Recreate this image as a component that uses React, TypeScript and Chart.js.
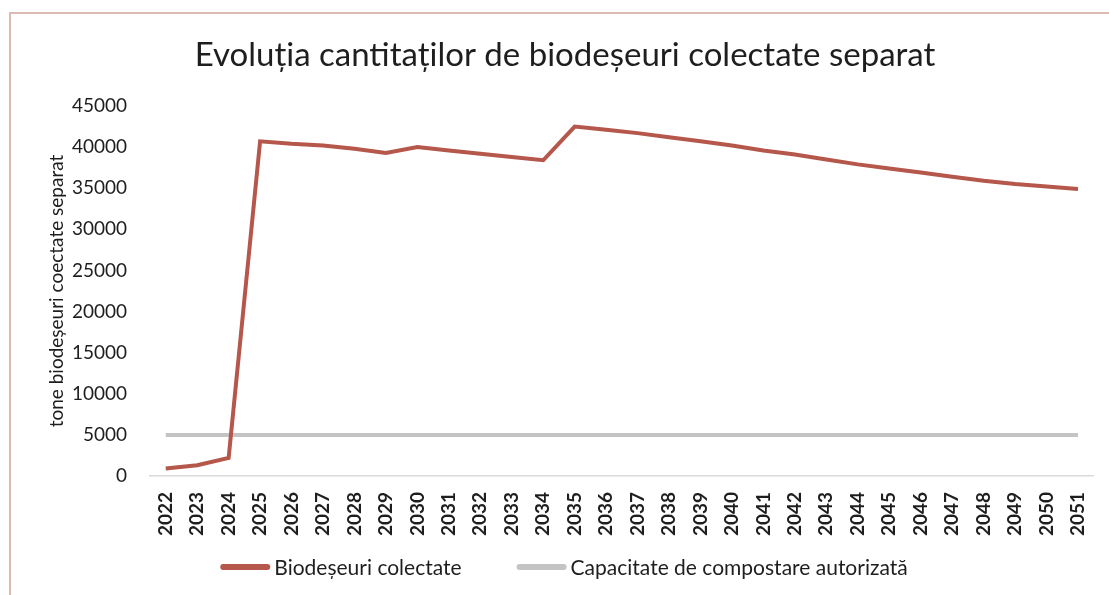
import React, { useEffect, useRef } from "react";
import { Chart, registerables } from "chart.js";

Chart.register(...registerables);

const TITLE = "Evoluția cantitaților de biodeșeuri colectate separat";
const Y_TITLE = "tone biodeșeuri coectate separat";

const years = [
  "2022", "2023", "2024", "2025", "2026", "2027", "2028", "2029", "2030", "2031",
  "2032", "2033", "2034", "2035", "2036", "2037", "2038", "2039", "2040", "2041",
  "2042", "2043", "2044", "2045", "2046", "2047", "2048", "2049", "2050", "2051",
];

const biodeseuriColectate = [
  900, 1300, 2200, 40700, 40400, 40200, 39800, 39300, 40000, 39600,
  39200, 38800, 38400, 42500, 42100, 41700, 41200, 40700, 40200, 39600,
  39100, 38500, 37900, 37400, 36900, 36400, 35900, 35500, 35200, 34900,
];

const capacitateCompostare = [
  5000, 5000, 5000, 5000, 5000, 5000, 5000, 5000, 5000, 5000,
  5000, 5000, 5000, 5000, 5000, 5000, 5000, 5000, 5000, 5000,
  5000, 5000, 5000, 5000, 5000, 5000, 5000, 5000, 5000, 5000,
];

const SERIES_LABELS = ["Biodeșeuri colectate", "Capacitate de compostare autorizată"];

const FONT = "Lato, 'Open Sans', sans-serif";
const TEXT = "#1e1e1e";

const W = 1109;
const H = 595;
const PAD_LEFT = 34;
const AREA_LEFT = 150;
const AREA_RIGHT = 1096;
const AREA_TOP = 106;
const AREA_BOTTOM = 476;
const TITLE_SIZE = 33;

const legendPlugin = {
  id: "bottomLegend",
  afterDraw(chart: any) {
    const ctx = chart.ctx;
    const ds = chart.data.datasets;
    const sample = 50;
    const gap = 4;
    const itemGap = 55;
    ctx.save();
    ctx.font = `21px ${FONT}`;
    const widths = ds.map((d: any) => sample + gap + ctx.measureText(d.label).width);
    const total = widths.reduce((a: number, b: number) => a + b, 0) + itemGap * (ds.length - 1);
    let x = 564 - total / 2;
    const y = 567;
    ds.forEach((d: any, i: number) => {
      ctx.strokeStyle = d.borderColor;
      ctx.lineWidth = 6;
      ctx.lineCap = "round";
      ctx.beginPath();
      ctx.moveTo(x + 3, y);
      ctx.lineTo(x + sample - 3, y);
      ctx.stroke();
      ctx.fillStyle = TEXT;
      ctx.textBaseline = "middle";
      ctx.textAlign = "left";
      ctx.fillText(d.label, x + sample + gap, y + 1);
      x += widths[i] + itemGap;
    });
    ctx.restore();
  },
};

export default function App() {
  const ref = useRef<HTMLCanvasElement>(null);

  useEffect(() => {
    if (!ref.current) return;
    const chart = new Chart(ref.current, {
      type: "line",
      data: {
        labels: years,
        datasets: [
          {
            label: SERIES_LABELS[0],
            data: biodeseuriColectate,
            borderColor: "#b5574a",
            backgroundColor: "#b5574a",
            borderWidth: 4,
            pointRadius: 0,
            tension: 0,
          },
          {
            label: SERIES_LABELS[1],
            data: capacitateCompostare,
            borderColor: "#c4c4c4",
            backgroundColor: "#c4c4c4",
            borderWidth: 4,
            pointRadius: 0,
            tension: 0,
          },
        ],
      },
      options: {
        responsive: false,
        animation: false,
        devicePixelRatio: 1,
        layout: { padding: { left: PAD_LEFT, right: W - AREA_RIGHT, top: 0, bottom: 0 } },
        plugins: {
          legend: { display: false },
          tooltip: { enabled: false },
          title: {
            display: true,
            text: TITLE,
            color: TEXT,
            font: { family: FONT, size: TITLE_SIZE, weight: "normal", lineHeight: 1.2 },
            padding: { top: 55 - TITLE_SIZE * 0.6, bottom: AREA_TOP - 55 - TITLE_SIZE * 0.6 },
          },
        },
        scales: {
          x: {
            offset: true,
            grid: { display: false },
            border: { display: true, color: "#d9d9d9", width: 1.5 },
            ticks: {
              autoSkip: false,
              maxRotation: 90,
              minRotation: 90,
              padding: 8,
              color: TEXT,
              font: { family: FONT, size: 19, weight: "bold" },
            },
            afterFit: (s: any) => {
              s.height = H - AREA_BOTTOM;
            },
          },
          y: {
            min: 0,
            max: 45000,
            grid: { display: false },
            border: { display: false },
            ticks: {
              stepSize: 5000,
              padding: 15,
              color: TEXT,
              font: { family: FONT, size: 19 },
              callback: (v: any) => String(v),
            },
            title: {
              display: true,
              text: Y_TITLE,
              color: TEXT,
              font: { family: FONT, size: 19 },
              padding: { top: 45 - PAD_LEFT, bottom: 0 },
            },
            afterFit: (s: any) => {
              s.width = AREA_LEFT - PAD_LEFT;
            },
          },
        },
      },
      plugins: [legendPlugin],
    });
    return () => chart.destroy();
  }, []);

  return (
    <div style={{ position: "fixed", left: 0, top: 0, width: W, height: H, background: "#fff", overflow: "hidden" }}>
      <div
        style={{
          position: "absolute",
          left: 9,
          top: 12,
          width: W + 20,
          height: H + 20,
          borderLeft: "2px solid #dcbcb2",
          borderTop: "2px solid #dcbcb2",
        }}
      />
      <canvas ref={ref} width={W} height={H} style={{ position: "absolute", left: 0, top: 0 }} />
    </div>
  );
}
